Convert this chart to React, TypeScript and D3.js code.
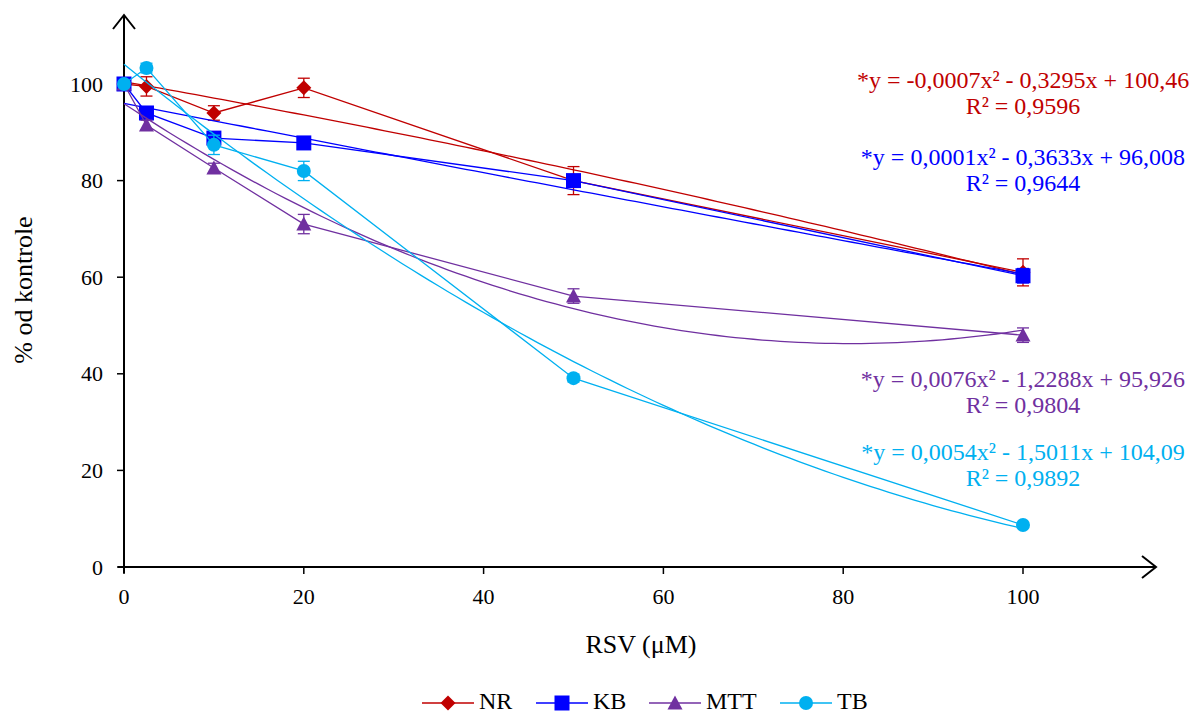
import React from "react";
import * as d3 from "d3";

const concentrations = [0, 2.5, 10, 20, 50, 100];
const seriesNames = ["NR", "KB", "MTT", "TB"];
const seriesColors = ["#C00000", "#0000FF", "#7030A0", "#00B0F0"];
const nrValues = [100, 99.5, 94, 99.2, 80, 61];
const kbValues = [100, 94, 88.8, 87.8, 80, 60.3];
const mttValues = [100, 91.5, 82.6, 71, 56.1, 48];
const tbValues = [100, 103.3, 87.4, 82, 39.1, 8.7];
const nrErrors = [0, 2, 1.5, 2, 2.9, 2.8];
const kbErrors = [0, 0.8, 1, 0.8, 1, 1.5];
const mttErrors = [0, 1, 1, 2, 1.5, 1.5];
const tbErrors = [0, 1, 2, 2, 0.8, 0.5];
// quadratic trendline coefficients [a, b, c] : y = a x^2 + b x + c
const trendCoefs = [
  [-0.0007, -0.3295, 100.46],
  [0.0001, -0.3633, 96.008],
  [0.0076, -1.2288, 95.926],
  [0.0054, -1.5011, 104.09],
];
const equationLines = [
  ["*y = -0,0007x² - 0,3295x + 100,46", "R² = 0,9596"],
  ["*y = 0,0001x² - 0,3633x + 96,008", "R² = 0,9644"],
  ["*y = 0,0076x² - 1,2288x + 95,926", "R² = 0,9804"],
  ["*y = 0,0054x² - 1,5011x + 104,09", "R² = 0,9892"],
];
const xTicks = [0, 20, 40, 60, 80, 100];
const yTicks = [0, 20, 40, 60, 80, 100];

const allValues = [nrValues, kbValues, mttValues, tbValues];
const allErrors = [nrErrors, kbErrors, mttErrors, tbErrors];

const FONT = "'Liberation Serif', 'Times New Roman', serif";

function Marker({ kind, x, y, color }: { kind: number; x: number; y: number; color: string }) {
  if (kind === 0) {
    const s = 7.5;
    return <path d={`M${x},${y - s}L${x + s},${y}L${x},${y + s}L${x - s},${y}Z`} fill={color} />;
  }
  if (kind === 1) {
    const s = 7.5;
    return <rect x={x - s} y={y - s} width={2 * s} height={2 * s} fill={color} />;
  }
  if (kind === 2) {
    const s = 7.5;
    return <path d={`M${x},${y - s}L${x + s},${y + s * 0.85}L${x - s},${y + s * 0.85}Z`} fill={color} />;
  }
  return <circle cx={x} cy={y} r={7} fill={color} />;
}

export default function App() {
  const W = 1195, H = 713;
  const x = d3.scaleLinear().domain([0, 100]).range([124, 1023]);
  const y = d3.scaleLinear().domain([0, 100]).range([567, 84]);
  const line = d3.line<[number, number]>().x(d => x(d[0])).y(d => y(d[1]));
  const sampleX = d3.range(0, 100.01, 1);
  const eqY = [88, 165, 387, 460];
  const legendX = [422, 536, 649, 780];

  return (
    <svg width={W} height={H} style={{ position: "absolute", left: 0, top: 0, background: "#fff" }} fontFamily={FONT}>
      {/* axes */}
      <line x1={124} x2={124} y1={573} y2={15} stroke="#000" strokeWidth={2} />
      <path d="M113,29L124,15L135,29" fill="none" stroke="#000" strokeWidth={2} />
      <line x1={118} x2={1156} y1={567} y2={567} stroke="#000" strokeWidth={2} />
      <path d="M1142,556L1156,567L1142,578" fill="none" stroke="#000" strokeWidth={2} />
      {yTicks.map(t => (
        <g key={"y" + t}>
          <line x1={117} x2={124} y1={y(t)} y2={y(t)} stroke="#000" strokeWidth={1.5} />
          <text x={103} y={y(t) + 7.5} textAnchor="end" fontSize={22}>{t}</text>
        </g>
      ))}
      {xTicks.map(t => (
        <g key={"x" + t}>
          <line x1={x(t)} x2={x(t)} y1={567} y2={574} stroke="#000" strokeWidth={1.5} />
          <text x={x(t)} y={604} textAnchor="middle" fontSize={22}>{t}</text>
        </g>
      ))}
      <text x={641} y={653} textAnchor="middle" fontSize={26}>RSV (μM)</text>
      <text transform="translate(32,290) rotate(-90)" textAnchor="middle" fontSize={26}>% od kontrole</text>

      {/* series */}
      {allValues.map((vals, si) => {
        const c = seriesColors[si];
        const pts = concentrations.map((cx, i) => [cx, vals[i]] as [number, number]);
        const trend = sampleX.map(t => [t, trendCoefs[si][0] * t * t + trendCoefs[si][1] * t + trendCoefs[si][2]] as [number, number]);
        return (
          <g key={si}>
            <path d={line(trend)!} fill="none" stroke={c} strokeWidth={1.3} />
            <path d={line(pts)!} fill="none" stroke={c} strokeWidth={1.3} />
            {pts.map((p, i) => {
              const e = allErrors[si][i];
              if (!e) return null;
              return (
                <g key={i} stroke={c} strokeWidth={1.3}>
                  <line x1={x(p[0])} x2={x(p[0])} y1={y(p[1] - e)} y2={y(p[1] + e)} />
                  <line x1={x(p[0]) - 6} x2={x(p[0]) + 6} y1={y(p[1] - e)} y2={y(p[1] - e)} />
                  <line x1={x(p[0]) - 6} x2={x(p[0]) + 6} y1={y(p[1] + e)} y2={y(p[1] + e)} />
                </g>
              );
            })}
            {pts.map((p, i) => (
              <Marker key={"m" + i} kind={si} x={x(p[0])} y={y(p[1])} color={c} />
            ))}
          </g>
        );
      })}

      {/* equations */}
      {equationLines.map((ls, si) => (
        <g key={"eq" + si} fill={seriesColors[si]} fontSize={24}>
          <text x={1023} y={eqY[si]} textAnchor="middle">{ls[0]}</text>
          <text x={1023} y={eqY[si] + 26} textAnchor="middle">{ls[1]}</text>
        </g>
      ))}

      {/* legend */}
      {seriesNames.map((n, si) => {
        const lx = legendX[si];
        return (
          <g key={"lg" + si}>
            <line x1={lx} x2={lx + 52} y1={703} y2={703} stroke={seriesColors[si]} strokeWidth={1.3} />
            <Marker kind={si} x={lx + 26} y={703} color={seriesColors[si]} />
            <text x={lx + 57} y={709} fontSize={24}>{n}</text>
          </g>
        );
      })}
    </svg>
  );
}
